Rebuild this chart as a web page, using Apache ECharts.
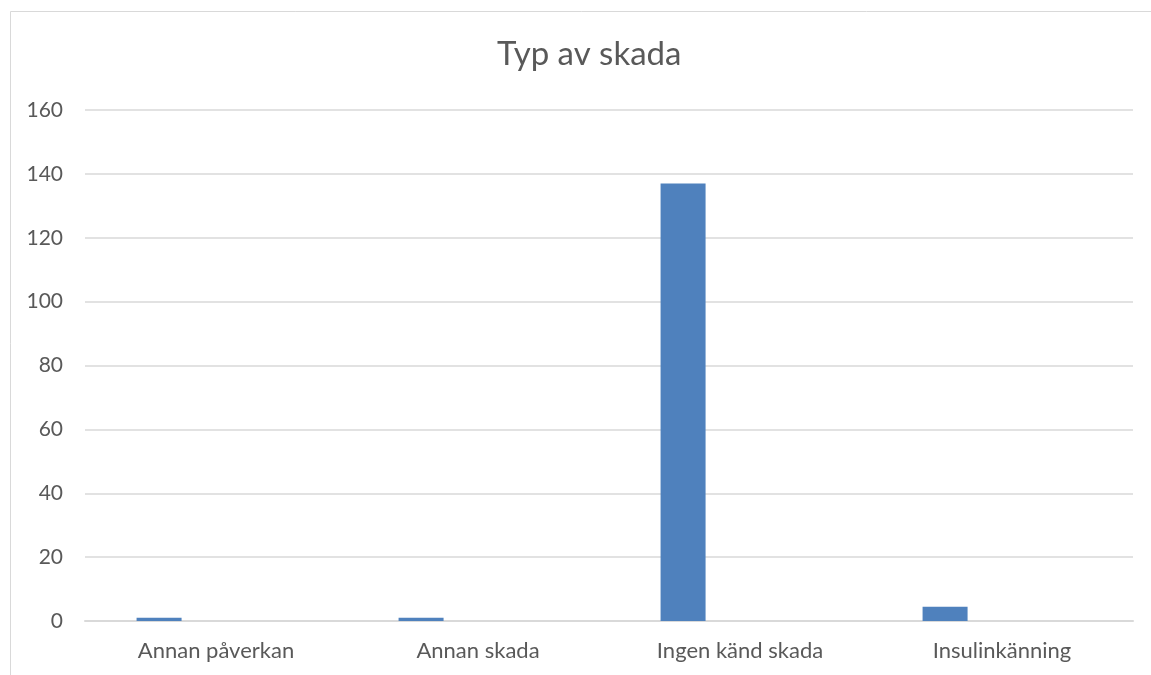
<!DOCTYPE html>
<html>
<head>
<meta charset="utf-8">
<script src="https://cdn.jsdelivr.net/npm/echarts@6/dist/echarts.min.js"></script>
<style>
  html, body { margin: 0; padding: 0; background: #fff; }
  #chart { width: 1151px; height: 675px; }
</style>
</head>
<body>
<div id="chart"></div>
<script>
var categories = ['Annan påverkan', 'Annan skada', 'Ingen känd skada', 'Insulinkänning'];
var skadaValues = [1, 1, 137, 4.5];
var yTicks = { min: 0, max: 160, interval: 20 };

var myChart = echarts.init(document.getElementById('chart'));

var option = {
  backgroundColor: '#ffffff',
  animation: false,
  graphic: [{
    type: 'rect',
    shape: { x: 10.5, y: 11.5, width: 1400, height: 900 },
    style: { fill: null, stroke: '#d9d9d9', lineWidth: 1 },
    silent: true
  }],
  title: {
    text: 'Typ av skada',
    left: 492,
    top: 33,
    textStyle: {
      color: '#595959',
      fontSize: 33,
      fontWeight: 'normal',
      fontFamily: 'Lato'
    }
  },
  grid: { left: 85, right: 18, top: 110, bottom: 54 },
  xAxis: {
    type: 'category',
    data: categories,
    axisTick: { show: false },
    axisLine: { show: true, lineStyle: { color: '#d9d9d9', width: 2 } },
    axisLabel: { color: '#595959', fontSize: 22, fontFamily: 'Lato', margin: 19 }
  },
  yAxis: {
    type: 'value',
    min: yTicks.min,
    max: yTicks.max,
    interval: yTicks.interval,
    axisTick: { show: false },
    axisLine: { show: false },
    splitLine: { lineStyle: { color: '#d9d9d9', width: 1.5 } },
    axisLabel: { color: '#595959', fontSize: 21, fontFamily: 'Lato', margin: 22 }
  },
  series: [
    {
      name: 'Antal',
      type: 'bar',
      data: skadaValues,
      barWidth: 45,
      barGap: '153%',
      itemStyle: { color: '#4f81bd' }
    },
    {
      name: 'tom',
      type: 'bar',
      data: [],
      barWidth: 45
    }
  ]
};
myChart.setOption(option);
</script>
</body>
</html>
